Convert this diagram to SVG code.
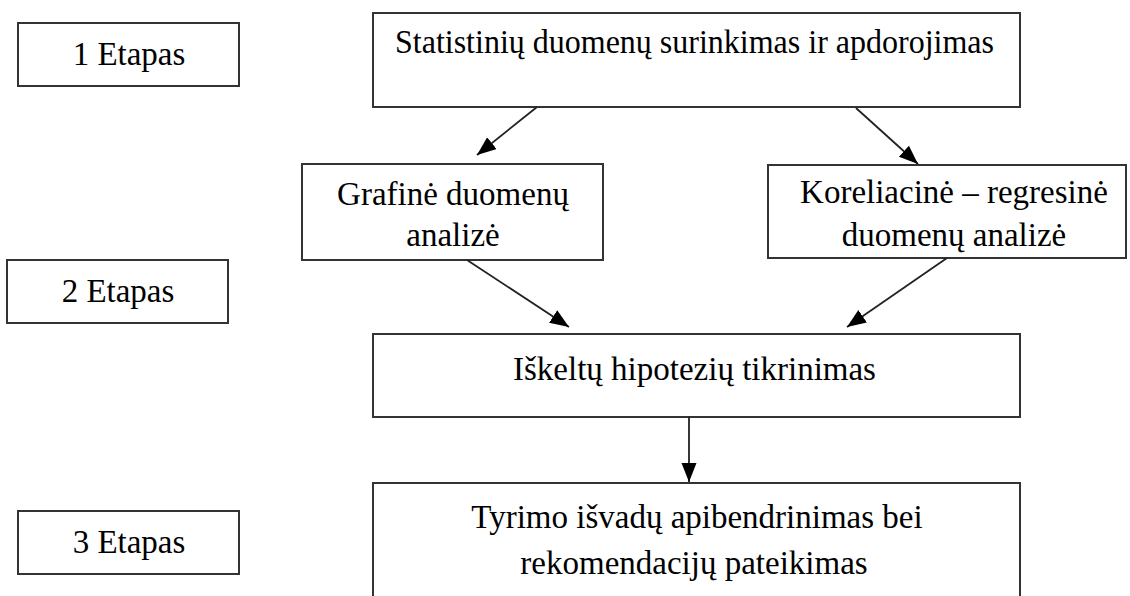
<svg xmlns="http://www.w3.org/2000/svg" width="1130" height="596" viewBox="0 0 1130 596">
<style>
.box{fill:#fff;stroke:#333;stroke-width:2}
.t{font-family:"Liberation Serif","Times New Roman",serif;font-size:33px;fill:#000;text-anchor:middle}
.c{stroke:#222;stroke-width:1.8;fill:none;marker-end:url(#ah)}
</style>
<defs>
<marker id="ah" markerUnits="userSpaceOnUse" markerWidth="22" markerHeight="16" refX="19" refY="7.5" orient="auto">
<path d="M0,0 L19,7.5 L0,15 z" fill="#000"/>
</marker>
</defs>
<rect width="1130" height="596" fill="#fff"/>
<g id="etapas1"><rect class="box" x="18" y="23" width="221" height="63"/><text class="t" x="129" y="65">1 Etapas</text></g>
<g id="etapas2"><rect class="box" x="7" y="260" width="221" height="63"/><text class="t" x="118" y="302">2 Etapas</text></g>
<g id="etapas3"><rect class="box" x="18" y="511" width="221" height="63"/><text class="t" x="129" y="553">3 Etapas</text></g>
<g id="statistiniu"><rect class="box" x="373" y="13" width="647" height="94"/><text class="t" x="694.5" y="53" textLength="599" lengthAdjust="spacingAndGlyphs">Statistinių duomenų surinkimas ir apdorojimas</text></g>
<g id="grafine"><rect class="box" x="302" y="164" width="301" height="96"/><text class="t" x="453" y="205">Grafinė duomenų</text><text class="t" x="453" y="246">analizė</text></g>
<g id="koreliacine"><rect class="box" x="768" y="165" width="358" height="93"/><text class="t" x="954" y="203">Koreliacinė – regresinė</text><text class="t" x="954" y="246">duomenų analizė</text></g>
<g id="iskeltu"><rect class="box" x="373" y="334" width="647" height="83"/><text class="t" x="694.5" y="380">Iškeltų hipotezių tikrinimas</text></g>
<g id="tyrimo"><rect class="box" x="373" y="483" width="647" height="130"/><text class="t" x="697" y="528">Tyrimo išvadų apibendrinimas bei</text><text class="t" x="694" y="574">rekomendacijų pateikimas</text></g>
<g id="connectors">
<line class="c" x1="537" y1="107" x2="477" y2="155"/>
<line class="c" x1="856" y1="108" x2="918" y2="164"/>
<line class="c" x1="467" y1="260" x2="569" y2="327"/>
<line class="c" x1="947" y1="258" x2="847" y2="327"/>
<line class="c" x1="689" y1="417" x2="689" y2="482"/>
</g>
</svg>
